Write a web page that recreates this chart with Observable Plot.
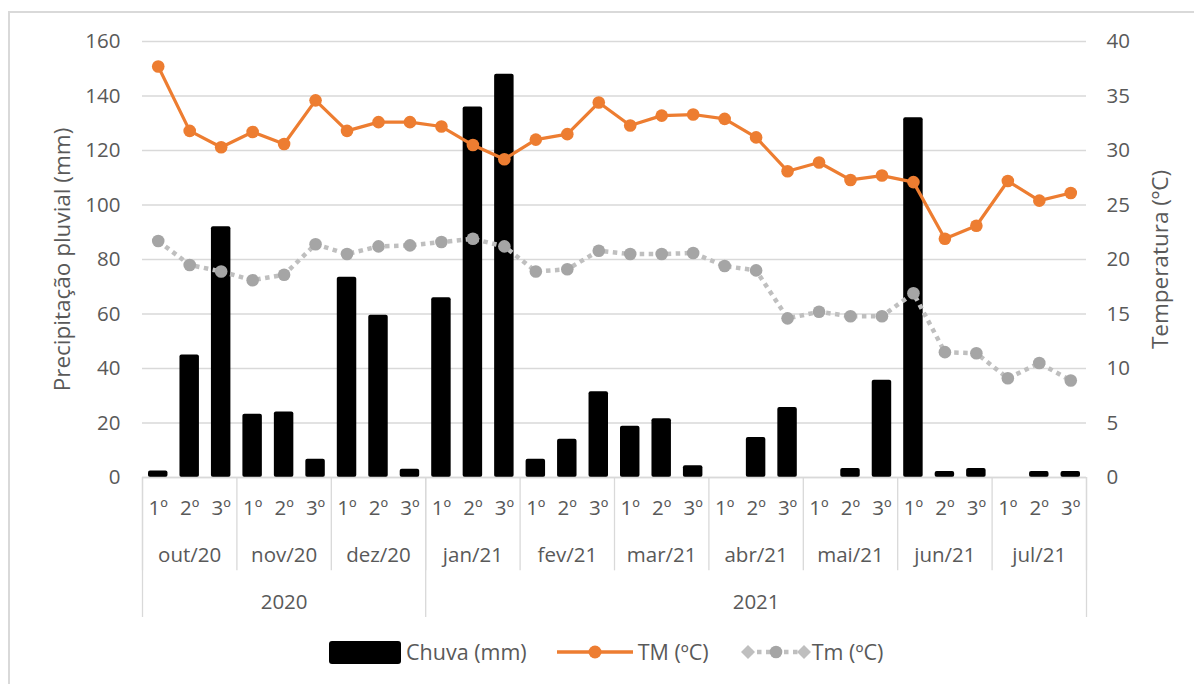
<!DOCTYPE html>
<html>
<head>
<meta charset="utf-8">
<script src="https://cdn.jsdelivr.net/npm/d3@7"></script>
<script src="https://cdn.jsdelivr.net/npm/@observablehq/plot@0.6"></script>
<style>
  body { margin: 0; background: #fff; font-family: "Open Sans", sans-serif; color: #595959; }
  #wrap { position: relative; width: 1194px; height: 684px; overflow: hidden; background: #fff; }
  #border { position: absolute; left: 8px; top: 11px; width: 1300px; height: 800px;
            border-left: 2px solid #d9d9d9; border-top: 2px solid #d9d9d9; }
  #main { position: absolute; left: 0; top: 0; }
  #cat { position: absolute; left: 0; top: 477px; }
  #legend { position: absolute; left: 328px; top: 637px; display: flex; align-items: center;
            font-size: 21.5px; color: #595959; white-space: nowrap; }
  #legend .item { display: flex; align-items: center; }
  #legend svg { display: block; }
</style>
</head>
<body>
<div id="wrap">
  <div id="border"></div>
  <div id="main"></div>
  <div id="cat"></div>
  <div id="legend"></div>
</div>
<script>
// ---- data ----
const decendios = ["1º", "2º", "3º"];
const meses = ["out/20", "nov/20", "dez/20", "jan/21", "fev/21", "mar/21", "abr/21", "mai/21", "jun/21", "jul/21"];
const anos = ["2020", "2021"];
const mesesPorAno = [3, 7];
const chuva = [2.4, 45, 92, 23.2, 24, 6.7, 73.5, 59.5, 3, 66, 136, 148, 6.7, 14, 31.5,
               18.8, 21.6, 4.3, 0, 14.7, 25.7, 0, 3.3, 35.7, 132, 2.2, 3.3, 0, 2.2, 2.2];
const tMax = [37.7, 31.8, 30.3, 31.7, 30.6, 34.6, 31.8, 32.6, 32.6, 32.2, 30.5, 29.2, 31.0, 31.5, 34.4,
              32.3, 33.2, 33.3, 32.9, 31.2, 28.1, 28.9, 27.3, 27.7, 27.1, 21.9, 23.1, 27.2, 25.4, 26.1];
const tMin = [21.7, 19.5, 18.9, 18.1, 18.6, 21.4, 20.5, 21.2, 21.3, 21.6, 21.9, 21.2, 18.9, 19.1, 20.8,
              20.5, 20.5, 20.6, 19.4, 19.0, 14.6, 15.2, 14.8, 14.8, 16.9, 11.5, 11.4, 9.1, 10.5, 8.9];
const leftTicks = [0, 20, 40, 60, 80, 100, 120, 140, 160];

// ---- derived table ----
const TEMP_FACTOR = 160 / 40; // right axis 0-40 mapped onto left 0-160
const rows = chuva.map((c, i) => ({
  i, chuva: c, tmax: tMax[i], tmin: tMin[i],
  dec: decendios[i % 3], mes: meses[Math.floor(i / 3)]
}));
const n = rows.length;
const monthRows = meses.map((m, k) => ({ mes: m, start: k * 3 }));
let acc = 0;
const yearRows = anos.map((a, k) => { const r = { ano: a, start: acc, end: acc + mesesPorAno[k] * 3 }; acc = r.end; return r; });
const monthBounds = d3.range(0, n + 1, 3);
const yearBounds = [0, ...yearRows.map(r => r.end)];

const W = 1194, ML = 142, MR = 108;
const TXT = "#595959", FS = 20.5, TFS = 22.5;
const font = { fontFamily: "Open Sans, sans-serif", fontSize: FS + "px", color: TXT,
               background: "transparent", overflow: "visible" };

const main = Plot.plot({
  width: W, height: 478,
  marginLeft: ML, marginRight: MR, marginTop: 41, marginBottom: 1,
  style: font,
  x: { domain: [0, n], axis: null },
  y: { domain: [0, 160], axis: null },
  marks: [
    Plot.gridY(leftTicks, { stroke: "#d9d9d9", strokeOpacity: 1, strokeWidth: 1.3 }),
    Plot.axisY(leftTicks, { anchor: "left", label: null, tickSize: 0, tickPadding: 22, fontSize: FS, fill: TXT }),
    Plot.axisY(leftTicks, { anchor: "right", label: null, tickSize: 0, tickPadding: 20, fontSize: FS, fill: TXT,
                            tickFormat: d => d / TEMP_FACTOR }),
    Plot.text(["Precipitação pluvial (mm)"], { frameAnchor: "left", textAnchor: "middle", dx: -80, rotate: -90,
                                               fontSize: TFS, fill: TXT }),
    Plot.text(["Temperatura (ºC)"], { frameAnchor: "right", textAnchor: "middle", dx: 74, rotate: -90,
                                      fontSize: TFS, fill: TXT }),
    Plot.rectY(rows, { x1: "i", x2: d => d.i + 1, y: "chuva", fill: "#000", insetLeft: 6, insetRight: 6, rx: 2 }),
    Plot.line(rows, { x: d => d.i + 0.5, y: d => d.tmin * TEMP_FACTOR, stroke: "#bfbfbf", strokeWidth: 4.5,
                      strokeDasharray: "4.5,4.5", strokeLinecap: "butt" }),
    Plot.dot(rows, { x: d => d.i + 0.5, y: d => d.tmin * TEMP_FACTOR, r: 6.3, fill: "#a5a5a5", stroke: "none" }),
    Plot.line(rows, { x: d => d.i + 0.5, y: d => d.tmax * TEMP_FACTOR, stroke: "#ed7d31", strokeWidth: 3.2 }),
    Plot.dot(rows, { x: d => d.i + 0.5, y: d => d.tmax * TEMP_FACTOR, r: 6.3, fill: "#ed7d31", stroke: "none" })
  ]
});
document.getElementById("main").appendChild(main);

// ---- multilevel category axis ----
const cat = Plot.plot({
  width: W, height: 145,
  marginLeft: ML, marginRight: MR, marginTop: 0, marginBottom: 5,
  style: font,
  x: { domain: [0, n], axis: null },
  y: { domain: [0, 3], range: [0, 140], axis: null },
  marks: [
    Plot.ruleY([0], { stroke: "#d9d9d9", strokeWidth: 1.5 }),
    Plot.ruleX(monthBounds, { y1: 0, y2: 2, stroke: "#d9d9d9", strokeWidth: 1.3 }),
    Plot.ruleX(yearBounds, { y1: 0, y2: 3, stroke: "#d9d9d9", strokeWidth: 1.3 }),
    Plot.text(rows, { x: d => d.i + 0.5, y: () => 0.5, text: "dec", dy: 8, fontSize: FS, fill: TXT }),
    Plot.text(monthRows, { x: d => d.start + 1.5, y: () => 1.5, text: "mes", dy: 8, fontSize: FS, fill: TXT }),
    Plot.text(yearRows, { x: d => (d.start + d.end) / 2, y: () => 2.5, text: "ano", dy: 8, fontSize: FS, fill: TXT })
  ]
});
document.getElementById("cat").appendChild(cat);

// ---- legend ----
const legend = document.getElementById("legend");
legend.innerHTML = `
  <div class="item">
    <svg width="74" height="26"><rect x="1" y="2" width="72" height="23" rx="3" fill="#000"/></svg>
    <span style="margin-left:4px">Chuva (mm)</span>
  </div>
  <div class="item" style="margin-left:29px">
    <svg width="78" height="26"><line x1="1" y1="13" x2="77" y2="13" stroke="#ed7d31" stroke-width="3.5"/>
      <circle cx="39" cy="13" r="6.5" fill="#ed7d31"/></svg>
    <span style="margin-left:4px">TM (ºC)</span>
  </div>
  <div class="item" style="margin-left:31px">
    <svg width="72" height="26">
      <line x1="8" y1="13" x2="64" y2="13" stroke="#bfbfbf" stroke-width="4.5" stroke-dasharray="4.5,4.5"/>
      <path d="M8,6 L15,13 L8,20 L1,13 Z" fill="#bfbfbf"/>
      <circle cx="36" cy="13" r="6.3" fill="#a5a5a5"/>
      <path d="M64,6 L71,13 L64,20 L57,13 Z" fill="#bfbfbf"/>
    </svg>
    <span>Tm (ºC)</span>
  </div>`;
</script>
</body>
</html>
